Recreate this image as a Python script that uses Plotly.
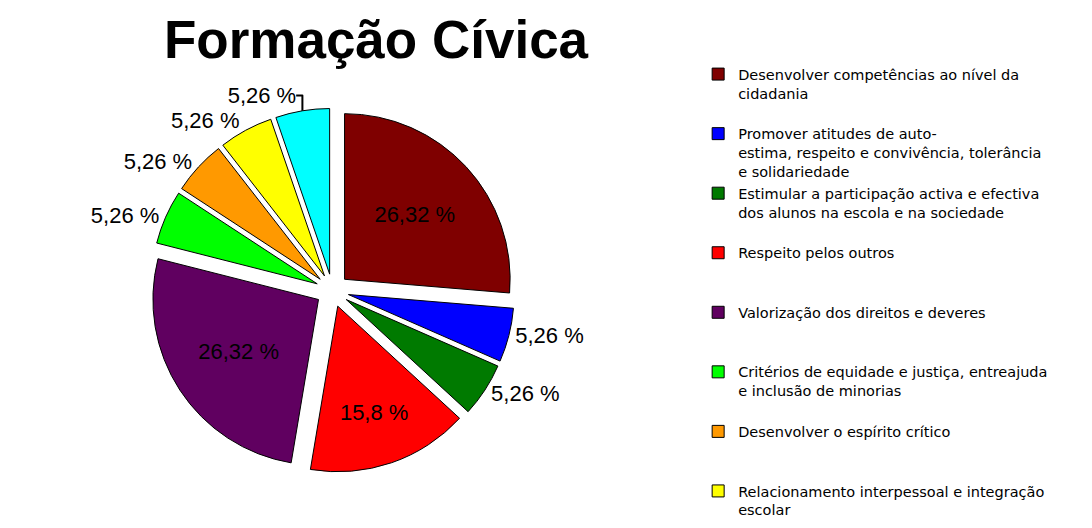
import plotly.graph_objects as go

categories = [
    "Desenvolver competências ao nível da<br>cidadania<br> ",
    "Promover atitudes de auto-<br>estima, respeito e convivência, tolerância<br>e solidariedade",
    "Estimular a participação activa e efectiva<br>dos alunos na escola e na sociedade<br> ",
    "Respeito pelos outros<br> <br> ",
    "Valorização dos direitos e deveres<br> <br> ",
    "Critérios de equidade e justiça, entreajuda<br>e inclusão de minorias<br> ",
    "Desenvolver o espírito crítico<br> <br> ",
    "Relacionamento interpessoal e integração<br>escolar<br> ",
    " ",
]
values = [26.32, 5.26, 5.26, 15.8, 26.32, 5.26, 5.26, 5.26, 5.26]
colors = ["#7f0000", "#0000ff", "#007a00", "#ff0000", "#600060",
          "#00ff00", "#ff9900", "#ffff00", "#00ffff"]
text_positions = ["inside", "outside", "outside", "inside", "inside",
                  "outside", "outside", "outside", "outside"]

label_font = dict(family="Liberation Sans, Arial, sans-serif", size=22, color="#000000")

fig = go.Figure(go.Pie(
    labels=categories,
    values=values,
    sort=False,
    direction="clockwise",
    rotation=0,
    marker=dict(colors=colors, line=dict(color="#000000", width=1)),
    pull=[0.1] * len(values),
    texttemplate="%{value} %",
    textposition=text_positions,
    textfont=label_font,
    insidetextfont=label_font,
    outsidetextfont=label_font,
    insidetextorientation="horizontal",
    domain=dict(x=[0.2, 0.74], y=[0.12, 0.81]),
    hoverinfo="label+value",
))

fig.update_layout(
    width=1092, height=528,
    separators=",.",
    paper_bgcolor="#ffffff",
    plot_bgcolor="#ffffff",
    margin=dict(l=0, r=0, t=0, b=0),
    title=dict(text="<b>Formação Cívica</b>", x=0.337, xanchor="center",
               y=0.94, yanchor="middle",
               font=dict(family="Liberation Sans, Arial, sans-serif", size=53, color="#000000")),
    legend=dict(xref="container", yref="container",
                x=0.632, xanchor="left", y=0.905, yanchor="top",
                valign="top", tracegroupgap=0, maxheight=900,
                font=dict(family="DejaVu Sans, sans-serif", size=14.5, color="#000000"),
                itemwidth=30),
    showlegend=True,
)

fig.write_html("out.html")
